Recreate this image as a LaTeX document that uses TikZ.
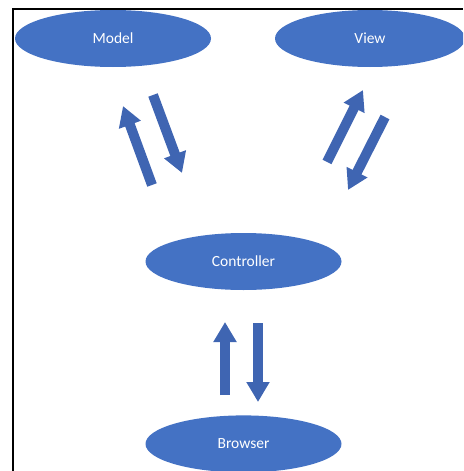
\documentclass[tikz,border=0pt]{standalone}
\usepackage{fontspec}
\setmainfont{Carlito}
\usetikzlibrary{arrows.meta}
\usetikzlibrary{positioning}
\usetikzlibrary{shapes.geometric}
\definecolor{mvcblue}{RGB}{68,114,196}
\definecolor{mvcarrow}{RGB}{63,101,178}

\begin{document}
\begin{tikzpicture}[x=1pt,y=-1pt]

		\tikzstyle{part} = [ellipse, fill=mvcblue, text=white, minimum width=196pt, minimum height=57pt, inner sep=0pt, font=\fontsize{15.5}{18}\selectfont]
		\tikzstyle{flow} = [draw=mvcarrow, line width=10pt, -{Triangle[width=22pt,length=20pt]}]

		\useasboundingbox (0,0) rectangle (463,471);
		\clip (0,0) rectangle (463,471);

		% frame
		\draw [line width=1.5pt] (13,471) -- (13,9) -- (463,9);

		% ellipses
		\node [part] (model) at (113,38.5) {Model};
		\node [part,minimum width=190pt] (view) at (370,38.5) {View};
		\node [part] (ctrl) at (243.5,261.5) {Controller};
		\node [part,below=125pt of ctrl] (browser) {Browser};

		% arrow ends
		\coordinate (m1a) at (152,185);
		\coordinate (m1b) at (123,106);
		\coordinate (m2a) at (153,95);
		\coordinate (m2b) at (182,173);
		\coordinate (v1a) at (327,162);
		\coordinate (v1b) at (363,90);
		\coordinate (v2a) at (385,117);
		\coordinate (v2b) at (348,190);
		\coordinate (b1a) at (225,395);
		\coordinate (b1b) at (225,322);
		\coordinate (b2a) at (258,323);
		\coordinate (b2b) at (258,402);

		% arrows
		\draw [flow] (m1a) -- (m1b);
		\draw [flow] (m2a) -- (m2b);
		\draw [flow] (v1a) -- (v1b);
		\draw [flow] (v2a) -- (v2b);
		\draw [flow] (b1a) -- (b1b);
		\draw [flow] (b2a) -- (b2b);

\end{tikzpicture}
\end{document}
